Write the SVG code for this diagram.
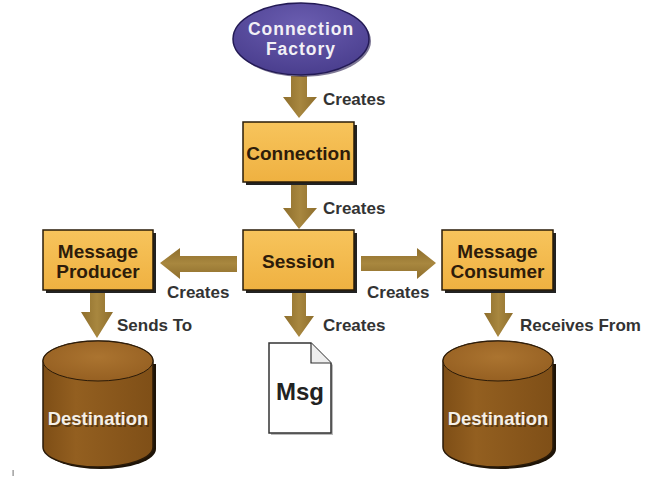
<svg xmlns="http://www.w3.org/2000/svg" width="671" height="477" viewBox="0 0 671 477">
<defs>
<linearGradient id="boxg" x1="0" y1="0" x2="0" y2="1">
<stop offset="0" stop-color="#f7c45c"/>
<stop offset="1" stop-color="#efb141"/>
</linearGradient>
<radialGradient id="ellg" cx="0.5" cy="0.3" r="0.7">
<stop offset="0" stop-color="#6a5db0"/>
<stop offset="1" stop-color="#4a3e8e"/>
</radialGradient>
<linearGradient id="arrg" x1="0" y1="0" x2="1" y2="0">
<stop offset="0" stop-color="#8e6e2c"/>
<stop offset="0.5" stop-color="#a8873f"/>
<stop offset="1" stop-color="#8e6e2c"/>
</linearGradient>
<linearGradient id="arrh" x1="0" y1="0" x2="0" y2="1">
<stop offset="0" stop-color="#8e6e2c"/>
<stop offset="0.5" stop-color="#a8873f"/>
<stop offset="1" stop-color="#8e6e2c"/>
</linearGradient>
<linearGradient id="cylg" x1="0" y1="0" x2="1" y2="0">
<stop offset="0" stop-color="#7e4e16"/>
<stop offset="0.3" stop-color="#935f20"/>
<stop offset="1" stop-color="#7f4f17"/>
</linearGradient>
<radialGradient id="capg" cx="0.5" cy="0.4" r="0.6">
<stop offset="0" stop-color="#ab7430"/>
<stop offset="1" stop-color="#966022"/>
</radialGradient>
</defs>
<style>
.box{fill:url(#boxg);stroke:#2a1c08;stroke-width:1.5}
.shadow{fill:#222}
.lbl{font-family:"Liberation Sans",Arial,sans-serif;font-weight:bold;font-size:19px;fill:#2e1c0a;text-anchor:middle}
.msg{font-family:"Liberation Sans",Arial,sans-serif;font-weight:bold;font-size:24px;fill:#222222;text-anchor:middle}
.wlbl{font-family:"Liberation Sans",Arial,sans-serif;font-weight:bold;font-size:17.5px;letter-spacing:1px;fill:#f2f0f6;text-anchor:middle}
.dlbl{font-family:"Liberation Sans",Arial,sans-serif;font-weight:bold;font-size:18.5px;fill:#f4efe8;text-anchor:middle}
.dsh{font-family:"Liberation Sans",Arial,sans-serif;font-weight:bold;font-size:18.5px;fill:#000000;opacity:0.35;text-anchor:middle}
.elbl{font-family:"Liberation Sans",Arial,sans-serif;font-weight:bold;font-size:17px;fill:#333333}
.arrow{fill:url(#arrg)}
.harrow{fill:url(#arrh)}
</style>
<rect width="671" height="477" fill="#ffffff"/>
<rect x="12.5" y="470" width="1.2" height="6" fill="#888"/>

<g id="connectors">
<polygon class="arrow" points="291,76 307,76 307,97 317,97 299,118 283,97 291,97"/>
<polygon class="arrow" points="291,185 307,185 307,208 317,208 299,229 283,208 291,208"/>
<polygon class="arrow" points="292,292 306,292 306,316 314,316 299,337 284,316 292,316"/>
<polygon class="arrow" points="90,292 105,292 105,312 113,312 97,338 81,312 90,312"/>
<polygon class="arrow" points="491,292 505,292 505,313 513,313 498,337 484,313 491,313"/>
<polygon class="harrow" points="237,256 237,272 180,272 180,279 160,263 180,248 180,256"/>
<polygon class="harrow" points="361,256 361,271 417,271 417,279 436,263 417,248 417,256"/>
<text class="elbl" x="323" y="105">Creates</text>
<text class="elbl" x="323" y="214">Creates</text>
<text class="elbl" x="167" y="298">Creates</text>
<text class="elbl" x="367" y="298">Creates</text>
<text class="elbl" x="117" y="331">Sends To</text>
<text class="elbl" x="323" y="331">Creates</text>
<text class="elbl" x="520" y="331">Receives From</text>
</g>

<g id="connection-factory">
<ellipse cx="303" cy="41" rx="68" ry="36" fill="#2a2050" opacity="0.6"/>
<ellipse cx="301" cy="39" rx="68" ry="36" fill="url(#ellg)" stroke="#231a55" stroke-width="1.5"/>
<text class="wlbl" x="301" y="34.5">Connection</text>
<text class="wlbl" x="301" y="54.5">Factory</text>
</g>

<g id="connection">
<rect class="shadow" x="246" y="125" width="111" height="60"/>
<rect class="box" x="243" y="122" width="111" height="60"/>
<text class="lbl" x="298.5" y="160">Connection</text>
</g>

<g id="session">
<rect class="shadow" x="246" y="233" width="111" height="60"/>
<rect class="box" x="243" y="230" width="111" height="60"/>
<text class="lbl" x="298.5" y="268">Session</text>
</g>

<g id="message-producer">
<rect class="shadow" x="46" y="233" width="110" height="60"/>
<rect class="box" x="43" y="230" width="110" height="60"/>
<text class="lbl" x="98" y="258">Message</text>
<text class="lbl" x="98" y="278">Producer</text>
</g>

<g id="message-consumer">
<rect class="shadow" x="445" y="233" width="111" height="60"/>
<rect class="box" x="442" y="230" width="111" height="60"/>
<text class="lbl" x="497.5" y="258">Message</text>
<text class="lbl" x="497.5" y="278">Consumer</text>
</g>

<g id="destination-left">
<path d="M46,364 L46,449 A55,20 0 0 0 156,449 L156,364 Z" fill="#1e1408"/>
<path d="M43,361 L43,447 A55,20 0 0 0 153,447 L153,361 A55,20 0 0 0 43,361 Z" fill="url(#cylg)" stroke="#2a1a08" stroke-width="1.5"/>
<ellipse cx="98" cy="361" rx="55" ry="20" fill="url(#capg)" stroke="#2a1a08" stroke-width="1"/>
<text class="dsh" x="99.5" y="426.5">Destination</text>
<text class="dlbl" x="98" y="425">Destination</text>
</g>

<g id="destination-right">
<path d="M446,364 L446,449 A55,20 0 0 0 556,449 L556,364 Z" fill="#1e1408"/>
<path d="M443,361 L443,447 A55,20 0 0 0 553,447 L553,361 A55,20 0 0 0 443,361 Z" fill="url(#cylg)" stroke="#2a1a08" stroke-width="1.5"/>
<ellipse cx="498" cy="361" rx="55" ry="20" fill="url(#capg)" stroke="#2a1a08" stroke-width="1"/>
<text class="dsh" x="499.5" y="426.5">Destination</text>
<text class="dlbl" x="498" y="425">Destination</text>
</g>

<g id="msg">
<path d="M271,345 L313,345 L333,365 L333,435 L271,435 Z" fill="#bbbbbb"/>
<path d="M269,343 L311,343 L331,363 L331,433 L269,433 Z" fill="#ffffff" stroke="#333" stroke-width="1.5"/>
<path d="M311,343 L311,363 L331,363" fill="#eeeeee" stroke="#333" stroke-width="1.2"/>
<text class="msg" x="300" y="400">Msg</text>
</g>
</svg>
